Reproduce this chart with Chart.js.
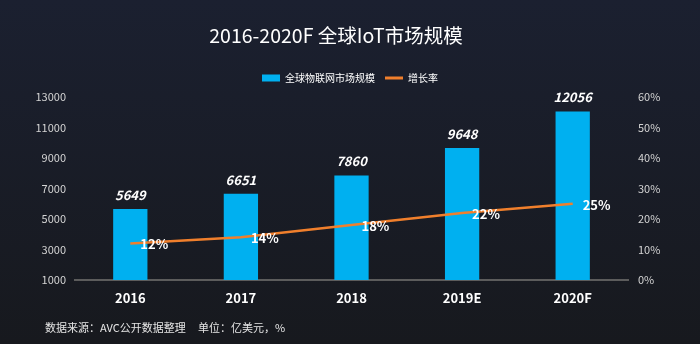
<!DOCTYPE html>
<html>
<head>
<meta charset="utf-8">
<script src="https://cdn.jsdelivr.net/npm/chart.js@4.4.1/dist/chart.umd.min.js"></script>
<style>
    html, body { margin: 0; padding: 0; background: #181b24; }
    #wrap { width: 700px; height: 344px; }
</style>
</head>
<body>
<div id="wrap"><canvas id="iotChart" width="700" height="344"></canvas></div>
<script>
var years = ['2016', '2017', '2018', '2019E', '2020F'];
var marketSize = [5649, 6651, 7860, 9648, 12056];
var growthRate = [12, 14, 18, 22, 25];
var leftTicks = [1000, 3000, 5000, 7000, 9000, 11000, 13000];
var rightTicks = [0, 10, 20, 30, 40, 50, 60];

var FONT = '"Noto Sans CJK SC", "Noto Sans", sans-serif';

// background gradient, title (sits a bit left of centre) and footer note
var backdrop = {
    id: 'backdrop',
    beforeInit: function (chart) {
        // a bit more room under the legend
        var fit = chart.legend.fit;
        chart.legend.fit = function () {
            fit.call(this);
            this.height += 4;
        };
    },
    beforeDraw: function (chart) {
        var ctx = chart.ctx;
        var g = ctx.createLinearGradient(0, 0, 0, chart.height);
        g.addColorStop(0, '#1b2030');
        g.addColorStop(1, '#17191e');
        ctx.save();
        ctx.fillStyle = g;
        ctx.fillRect(0, 0, chart.width, chart.height);
        ctx.restore();
    },
    afterDraw: function (chart) {
        var ctx = chart.ctx;
        ctx.save();
        ctx.fillStyle = '#ffffff';
        ctx.font = '19.5px ' + FONT;
        ctx.textAlign = 'center';
        ctx.textBaseline = 'middle';
        ctx.fillText('2016-2020F 全球IoT市场规模', 336, 36);

        ctx.fillStyle = '#e6e6e6';
        ctx.font = '11px ' + FONT;
        ctx.textAlign = 'left';
        ctx.fillText('数据来源：AVC公开数据整理', 45, 328);
        ctx.fillText('单位：亿美元，%', 198, 328);
        ctx.restore();
    }
};

// value labels on bars and line points
var valueLabels = {
    id: 'valueLabels',
    afterDatasetsDraw: function (chart) {
        var ctx = chart.ctx;
        ctx.save();
        ctx.fillStyle = '#ffffff';
        ctx.textBaseline = 'middle';

        var barMeta = chart.getDatasetMeta(0);
        ctx.font = 'italic bold 13px ' + FONT;
        ctx.textAlign = 'center';
        barMeta.data.forEach(function (bar, i) {
            ctx.fillText(marketSize[i], bar.x, bar.y - 14);
        });

        var lineMeta = chart.getDatasetMeta(1);
        ctx.font = 'bold 13px ' + FONT;
        ctx.textAlign = 'left';
        lineMeta.data.forEach(function (pt, i) {
            ctx.fillText(growthRate[i] + '%', pt.x + 10, pt.y + 1);
        });
        ctx.restore();
    }
};

var ctx = document.getElementById('iotChart').getContext('2d');
new Chart(ctx, {
    type: 'bar',
    data: {
        labels: years,
        datasets: [{
            type: 'bar',
            label: '全球物联网市场规模',
            data: marketSize,
            backgroundColor: '#00b0f0',
            borderWidth: 0,
            barPercentage: 0.31,
            categoryPercentage: 1,
            yAxisID: 'y',
            order: 2
        }, {
            type: 'line',
            label: '增长率',
            data: growthRate,
            borderColor: '#f07f2c',
            backgroundColor: '#f07f2c',
            borderWidth: 2.5,
            pointRadius: 0,
            tension: 0,
            yAxisID: 'y1',
            order: 1
        }]
    },
    options: {
        responsive: false,
        animation: false,
        devicePixelRatio: 1,
        layout: { padding: { left: 0, right: 0, top: 63, bottom: 30 } },
        plugins: {
            title: { display: false },
            legend: {
                display: true,
                labels: {
                    color: '#ffffff',
                    font: { family: FONT, size: 10 },
                    usePointStyle: true,
                    pointStyleWidth: 18,
                    boxHeight: 7,
                    padding: 10,
                    sort: function (a, b) { return a.datasetIndex - b.datasetIndex; },
                    generateLabels: function (chart) {
                        return chart.data.datasets.map(function (ds, i) {
                            return {
                                text: ds.label,
                                fillStyle: ds.backgroundColor,
                                strokeStyle: ds.type === 'line' ? ds.borderColor : ds.backgroundColor,
                                lineWidth: ds.type === 'line' ? 3 : 0,
                                pointStyle: ds.type === 'line' ? 'line' : 'rect',
                                fontColor: '#ffffff',
                                datasetIndex: i,
                                hidden: false
                            };
                        });
                    }
                }
            },
            tooltip: { enabled: false }
        },
        scales: {
            x: {
                grid: { display: false, drawTicks: false },
                border: { display: true, color: '#5c5c5c', width: 2 },
                ticks: {
                    color: '#ffffff',
                    font: { family: FONT, size: 13, weight: 'bold' },
                    padding: 10
                },
                afterFit: function (scale) { scale.height = 34; }
            },
            y: {
                position: 'left',
                min: 1000,
                max: 13000,
                grid: { display: false, drawTicks: false },
                border: { display: false },
                afterBuildTicks: function (scale) {
                    scale.ticks = leftTicks.map(function (v) { return { value: v }; });
                },
                ticks: {
                    color: '#d4d4d4',
                    font: { family: FONT, size: 11 },
                    padding: 9,
                    callback: function (v) { return String(v); }
                },
                afterFit: function (scale) { scale.width = 75; }
            },
            y1: {
                position: 'right',
                min: 0,
                max: 60,
                grid: { display: false, drawTicks: false },
                border: { display: false },
                afterBuildTicks: function (scale) {
                    scale.ticks = rightTicks.map(function (v) { return { value: v }; });
                },
                ticks: {
                    color: '#d4d4d4',
                    font: { family: FONT, size: 11 },
                    padding: 10,
                    callback: function (v) { return v + '%'; }
                },
                afterFit: function (scale) { scale.width = 72; }
            }
        }
    },
    plugins: [backdrop, valueLabels]
});
</script>
</body>
</html>
